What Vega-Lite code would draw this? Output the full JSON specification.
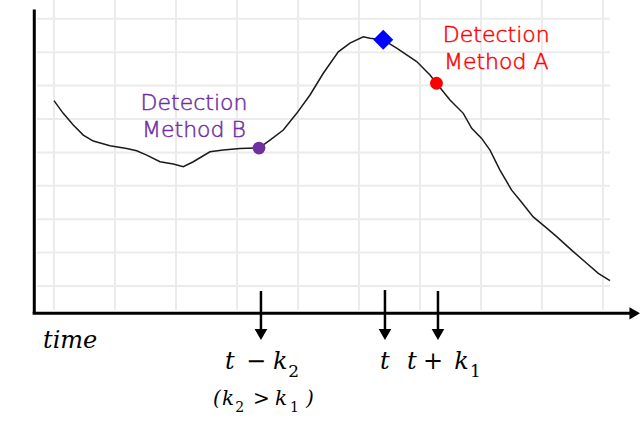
{
  "$schema": "https://vega.github.io/schema/vega-lite/v6.json",
  "width": 640,
  "height": 437,
  "padding": 0,
  "autosize": {"type": "none"},
  "background": "white",
  "config": {"view": {"stroke": null}},
  "datasets": {
    "curve": [
      {"t": 0.0, "v": 5.55}, {"t": 0.152, "v": 5.17}, {"t": 0.316, "v": 4.82}, {"t": 0.48, "v": 4.52},
      {"t": 0.644, "v": 4.34}, {"t": 0.918, "v": 4.2}, {"t": 1.192, "v": 4.12}, {"t": 1.356, "v": 4.05},
      {"t": 1.52, "v": 3.92}, {"t": 1.738, "v": 3.72}, {"t": 1.956, "v": 3.65}, {"t": 2.12, "v": 3.57},
      {"t": 2.284, "v": 3.72}, {"t": 2.557, "v": 4.02}, {"t": 2.775, "v": 4.07}, {"t": 3.049, "v": 4.12},
      {"t": 3.361, "v": 4.13}, {"t": 3.541, "v": 4.37}, {"t": 3.759, "v": 4.67}, {"t": 3.979, "v": 5.17},
      {"t": 4.197, "v": 5.72}, {"t": 4.415, "v": 6.37}, {"t": 4.661, "v": 7.01}, {"t": 4.852, "v": 7.27},
      {"t": 5.07, "v": 7.46}, {"t": 5.18, "v": 7.42}, {"t": 5.398, "v": 7.37}, {"t": 5.618, "v": 7.12},
      {"t": 5.946, "v": 6.72}, {"t": 6.164, "v": 6.32}, {"t": 6.27, "v": 6.07}, {"t": 6.492, "v": 5.57},
      {"t": 6.71, "v": 5.17}, {"t": 6.848, "v": 4.72}, {"t": 7.011, "v": 4.42}, {"t": 7.148, "v": 4.07},
      {"t": 7.311, "v": 3.47}, {"t": 7.503, "v": 2.87}, {"t": 7.639, "v": 2.57}, {"t": 7.857, "v": 2.07},
      {"t": 8.049, "v": 1.78}, {"t": 8.241, "v": 1.48}, {"t": 8.513, "v": 1.03}, {"t": 8.733, "v": 0.68},
      {"t": 8.923, "v": 0.38}, {"t": 9.115, "v": 0.16}
    ],
    "vgrid": [{"g": 0}, {"g": 1}, {"g": 2}, {"g": 3}, {"g": 4}, {"g": 5}, {"g": 6}, {"g": 7}, {"g": 8}, {"g": 9}],
    "hgrid": [{"g": 0}, {"g": 1}, {"g": 2}, {"g": 3}, {"g": 4}, {"g": 5}, {"g": 6}, {"g": 7}, {"g": 8}],
    "axes": [
      {"x1": -0.323, "y1": 8.28, "x2": -0.323, "y2": -0.817},
      {"x1": -0.35, "y1": -0.817, "x2": 9.45, "y2": -0.817}
    ],
    "stems": [
      {"t": 3.393, "top": -0.15, "bottom": -1.35},
      {"t": 5.426, "top": -0.12, "bottom": -1.35},
      {"t": 6.295, "top": -0.15, "bottom": -1.35}
    ],
    "downHeads": [
      {"t": 3.393, "v": -1.452},
      {"t": 5.426, "v": -1.452},
      {"t": 6.295, "v": -1.452}
    ],
    "rightHead": [{"t": 9.521, "v": -0.817}],
    "dots": [
      {"t": 3.361, "v": 4.13, "kind": "B"},
      {"t": 6.27, "v": 6.07, "kind": "A"}
    ],
    "peak": [{"t": 5.398, "v": 7.37}],
    "methodLabels": [
      {"t": 2.295, "v": 5.27, "text": "Detection", "kind": "B"},
      {"t": 2.295, "v": 4.46, "text": "Method B", "kind": "B"},
      {"t": 7.25, "v": 7.31, "text": "Detection", "kind": "A"},
      {"t": 7.25, "v": 6.49, "text": "Method A", "kind": "A"}
    ],
    "mathBig": [
      {"t": -0.18, "v": -1.856, "text": "time"},
      {"t": 2.803, "v": -2.485, "text": "t"},
      {"t": 3.148, "v": -2.485, "text": "−"},
      {"t": 3.59, "v": -2.485, "text": "k"},
      {"t": 5.344, "v": -2.485, "text": "t"},
      {"t": 5.787, "v": -2.485, "text": "t"},
      {"t": 6.05, "v": -2.485, "text": "+"},
      {"t": 6.56, "v": -2.485, "text": "k"}
    ],
    "subBig": [
      {"t": 3.84, "v": -2.725, "text": "2"},
      {"t": 6.82, "v": -2.725, "text": "1"}
    ],
    "mathSmall": [
      {"t": 2.607, "v": -3.563, "text": "("},
      {"t": 2.754, "v": -3.563, "text": "k"},
      {"t": 3.262, "v": -3.563, "text": ">"},
      {"t": 3.623, "v": -3.563, "text": "k"},
      {"t": 4.131, "v": -3.563, "text": ")"}
    ],
    "subSmall": [
      {"t": 2.97, "v": -3.772, "text": "2"},
      {"t": 3.87, "v": -3.772, "text": "1"}
    ]
  },
  "layer": [
    {
      "data": {"name": "vgrid"},
      "mark": {"type": "rule", "color": "#ebebeb", "strokeWidth": 2},
      "encoding": {
        "x": {"field": "g", "type": "quantitative", "scale": {"domain": [-0.885, 9.607], "nice": false, "zero": false}, "axis": null},
        "y": {"datum": -0.72, "type": "quantitative", "scale": {"domain": [-4.52, 8.563], "nice": false, "zero": false}, "axis": null},
        "y2": {"datum": 8.563}
      }
    },
    {
      "data": {"name": "hgrid"},
      "mark": {"type": "rule", "color": "#ebebeb", "strokeWidth": 2},
      "encoding": {
        "y": {"field": "g", "type": "quantitative"},
        "x": {"datum": -0.28, "type": "quantitative"},
        "x2": {"datum": 9.115}
      }
    },
    {
      "data": {"name": "curve"},
      "mark": {"type": "line", "color": "#1a1a1a", "strokeWidth": 1.5},
      "encoding": {
        "x": {"field": "t", "type": "quantitative"},
        "y": {"field": "v", "type": "quantitative"}
      }
    },
    {
      "data": {"name": "axes"},
      "mark": {"type": "rule", "color": "black", "strokeWidth": 3},
      "encoding": {
        "x": {"field": "x1", "type": "quantitative"},
        "y": {"field": "y1", "type": "quantitative"},
        "x2": {"field": "x2"},
        "y2": {"field": "y2"}
      }
    },
    {
      "data": {"name": "stems"},
      "mark": {"type": "rule", "color": "black", "strokeWidth": 2.5},
      "encoding": {
        "x": {"field": "t", "type": "quantitative"},
        "y": {"field": "top", "type": "quantitative"},
        "y2": {"field": "bottom"}
      }
    },
    {
      "data": {"name": "downHeads"},
      "mark": {"type": "point", "shape": "triangle-down", "filled": true, "color": "black", "opacity": 1, "size": 160},
      "encoding": {
        "x": {"field": "t", "type": "quantitative"},
        "y": {"field": "v", "type": "quantitative"}
      }
    },
    {
      "data": {"name": "rightHead"},
      "mark": {"type": "point", "shape": "triangle-right", "filled": true, "color": "black", "opacity": 1, "size": 150},
      "encoding": {
        "x": {"field": "t", "type": "quantitative"},
        "y": {"field": "v", "type": "quantitative"}
      }
    },
    {
      "data": {"name": "dots"},
      "mark": {"type": "point", "shape": "circle", "filled": true, "opacity": 1, "size": 165},
      "encoding": {
        "x": {"field": "t", "type": "quantitative"},
        "y": {"field": "v", "type": "quantitative"},
        "color": {"field": "kind", "type": "nominal", "scale": {"domain": ["A", "B"], "range": ["#ff0000", "#7030a0"]}, "legend": null}
      }
    },
    {
      "data": {"name": "peak"},
      "mark": {"type": "point", "shape": "diamond", "filled": true, "opacity": 1, "size": 400, "color": "#0000ff"},
      "encoding": {
        "x": {"field": "t", "type": "quantitative"},
        "y": {"field": "v", "type": "quantitative"}
      }
    },
    {
      "data": {"name": "methodLabels"},
      "mark": {"type": "text", "font": "DejaVu Sans", "fontSize": 22, "fontWeight": 200, "align": "center", "baseline": "alphabetic", "strokeWidth": 0.5},
      "encoding": {
        "x": {"field": "t", "type": "quantitative"},
        "y": {"field": "v", "type": "quantitative"},
        "text": {"field": "text"},
        "color": {"field": "kind", "type": "nominal", "legend": null},
        "stroke": {"field": "kind", "type": "nominal", "scale": {"domain": ["A", "B"], "range": ["#ff0000", "#7030a0"]}, "legend": null}
      }
    },
    {
      "data": {"name": "mathBig"},
      "mark": {"type": "text", "font": "DejaVu Serif", "fontStyle": "italic", "fontSize": 24, "align": "left", "baseline": "alphabetic", "color": "black"},
      "encoding": {
        "x": {"field": "t", "type": "quantitative"},
        "y": {"field": "v", "type": "quantitative"},
        "text": {"field": "text"}
      }
    },
    {
      "data": {"name": "subBig"},
      "mark": {"type": "text", "font": "DejaVu Serif", "fontSize": 17, "align": "left", "baseline": "alphabetic", "color": "black"},
      "encoding": {
        "x": {"field": "t", "type": "quantitative"},
        "y": {"field": "v", "type": "quantitative"},
        "text": {"field": "text"}
      }
    },
    {
      "data": {"name": "mathSmall"},
      "mark": {"type": "text", "font": "DejaVu Serif", "fontStyle": "italic", "fontSize": 20, "align": "left", "baseline": "alphabetic", "color": "black"},
      "encoding": {
        "x": {"field": "t", "type": "quantitative"},
        "y": {"field": "v", "type": "quantitative"},
        "text": {"field": "text"}
      }
    },
    {
      "data": {"name": "subSmall"},
      "mark": {"type": "text", "font": "DejaVu Serif", "fontSize": 14, "align": "left", "baseline": "alphabetic", "color": "black"},
      "encoding": {
        "x": {"field": "t", "type": "quantitative"},
        "y": {"field": "v", "type": "quantitative"},
        "text": {"field": "text"}
      }
    }
  ]
}
